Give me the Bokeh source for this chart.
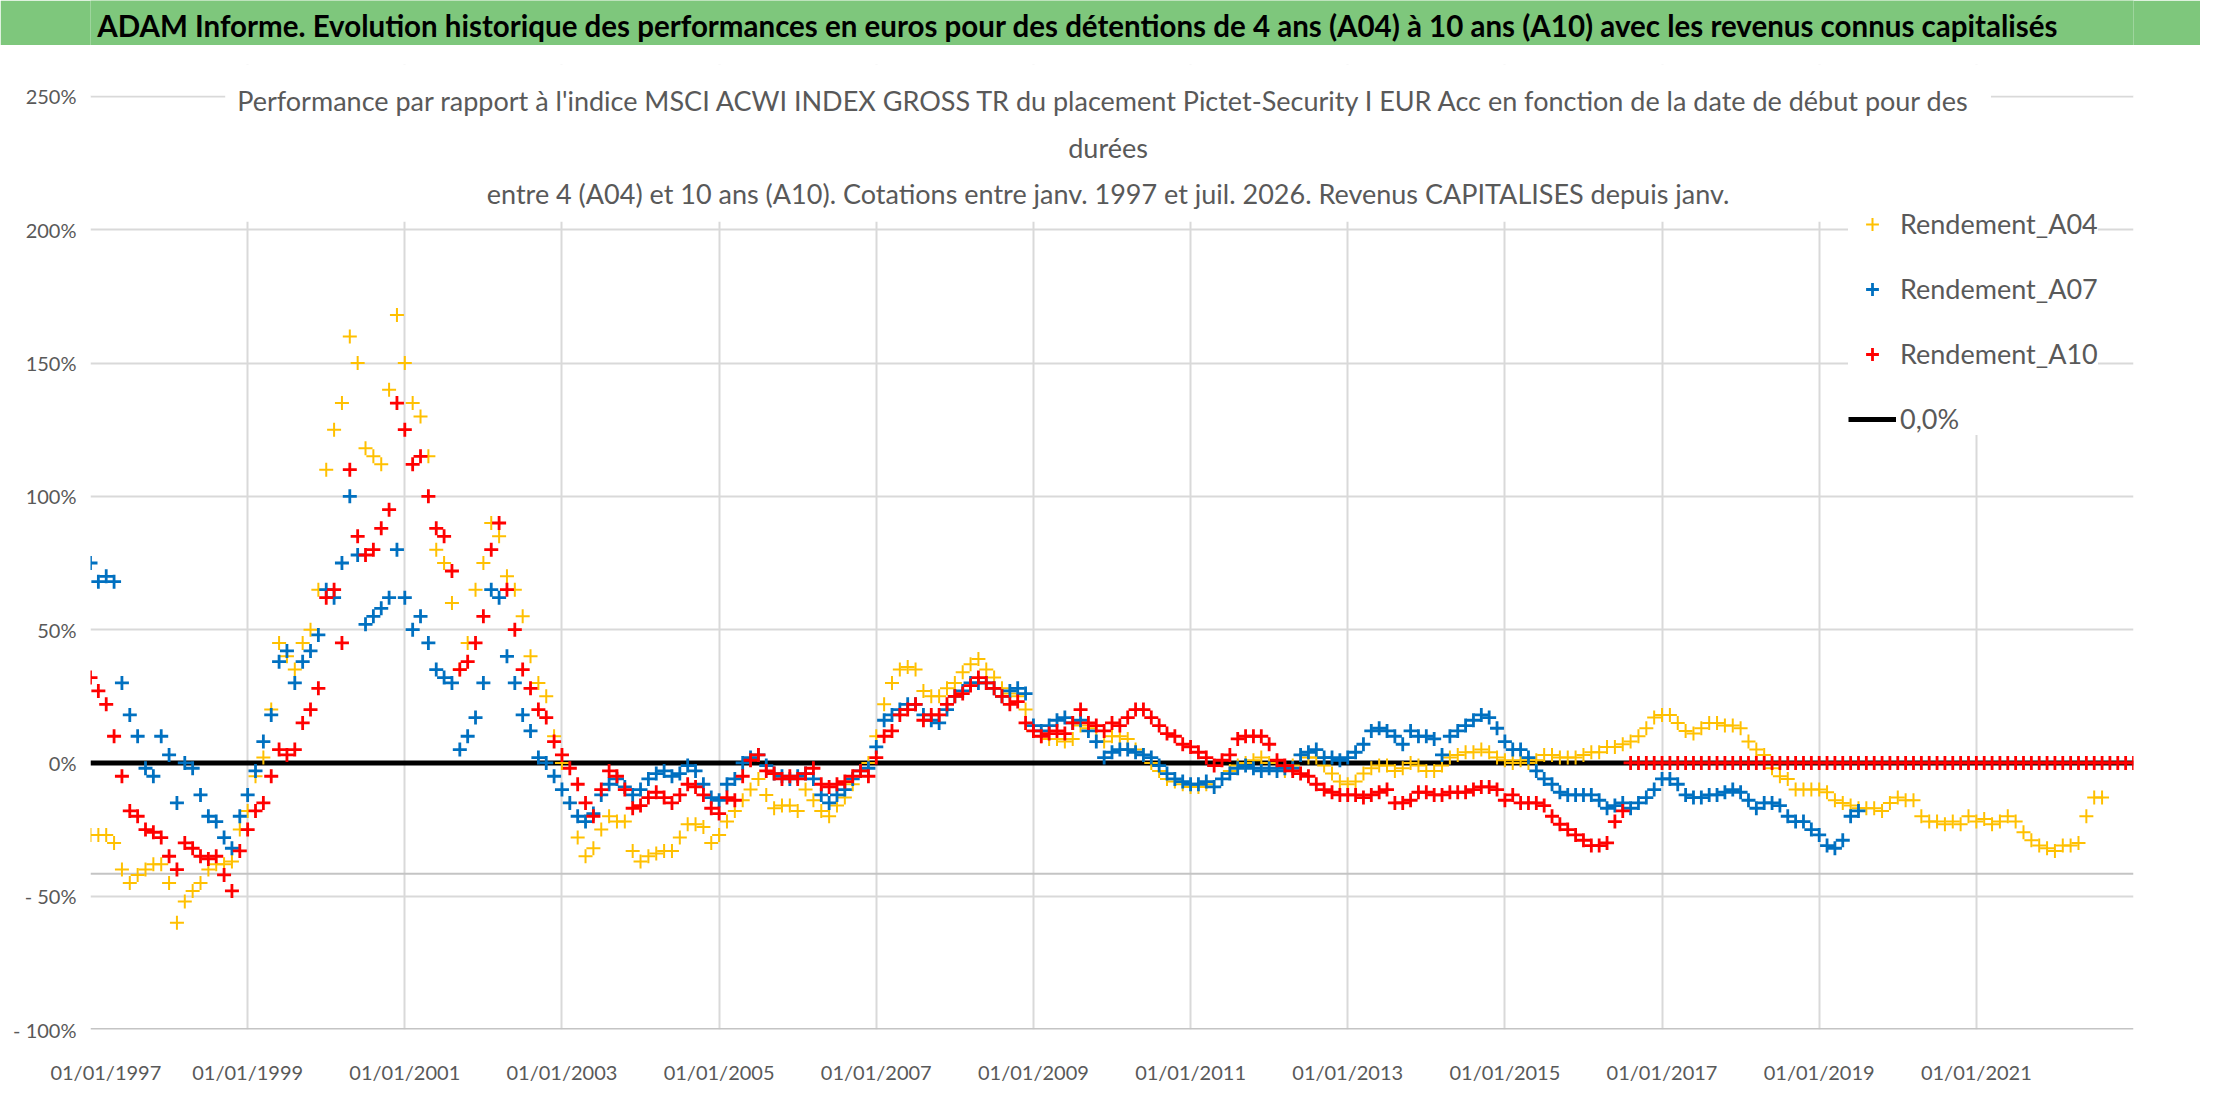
from bokeh.plotting import figure
from bokeh.layouts import column
from bokeh.models import (Range1d, FixedTicker, Label, Legend, LegendItem, Span,
                          BoxAnnotation)
from bokeh.embed import file_html
from bokeh.resources import INLINE

# Performance values (%) read every 0.1 year, starting 01/01/1997
start_year = 1997.0
step = 0.1

rendement_a04 = [
    -27, -27, -27, -30, -40, -45, -42, -40, -38, -38,   # 1997
    -45, -60, -52, -48, -45, -40, -38, -38, -37, -25,   # 1998
    -18, -5, 2, 20, 45, 40, 35, 45, 50, 65,             # 1999
    110, 125, 135, 160, 150, 118, 115, 112, 140, 168,   # 2000
    150, 135, 130, 115, 80, 75, 60, 35, 45, 65,         # 2001
    75, 90, 85, 70, 65, 55, 40, 30, 25, 10,             # 2002
    0, -15, -28, -35, -32, -25, -20, -22, -22, -33,     # 2003
    -37, -35, -34, -33, -33, -28, -23, -23, -24, -30,   # 2004
    -27, -22, -18, -14, -10, -6, -12, -17, -16, -16,    # 2005
    -18, -10, -14, -18, -20, -16, -13, -8, -3, 0,       # 2006
    10, 22, 30, 35, 36, 35, 27, 25, 25, 28,             # 2007
    30, 34, 37, 39, 35, 32, 28, 26, 25, 20,             # 2008
    12, 10, 9, 9, 8, 9, 14, 13, 12, 8,                  # 2009
    10, 10, 9, 5, 3, 0, -3, -6, -7, -8,                 # 2010
    -9, -9, -8, -9, -6, -3, -1, 0, 1, 2,                # 2011
    0, -2, -3, -1, 3, 2, 2, -1, -4, -7,                 # 2012
    -8, -7, -4, -2, -1, -1, -3, -2, 0, -1,              # 2013
    -3, -3, -1, 2, 3, 4, 4, 5, 4, 2,                    # 2014
    1, 0, 1, 0, 1, 3, 3, 2, 2, 2,                       # 2015
    3, 4, 4, 6, 6, 7, 8, 10, 13, 17,                    # 2016
    18, 18, 15, 12, 11, 13, 15, 15, 14, 14,             # 2017
    13, 8, 5, 3, -2, -5, -6, -10, -10, -10,             # 2018
    -10, -11, -14, -15, -16, -17, -17, -17, -18, -15,   # 2019
    -13, -14, -14, -20, -22, -22, -23, -22, -23, -20,   # 2020
    -22, -21, -23, -22, -20, -22, -26, -29, -31, -32,   # 2021
    -33, -31, -31, -30, -20, -13, -13,                  # 2022
]

rendement_a07 = [
    75, 68, 70, 68, 30, 18, 10, -2, -5, 10,             # 1997
    3, -15, 0, -2, -12, -20, -22, -28, -32, -20,        # 1998
    -12, -3, 8, 18, 38, 42, 30, 38, 42, 48,             # 1999
    65, 62, 75, 100, 78, 52, 55, 58, 62, 80,            # 2000
    62, 50, 55, 45, 35, 32, 30, 5, 10, 17,              # 2001
    30, 65, 62, 40, 30, 18, 12, 2, 0, -5,               # 2002
    -10, -15, -20, -22, -19, -12, -8, -6, -9, -12,      # 2003
    -10, -6, -4, -3, -5, -4, -1, -3, -8, -13,           # 2004
    -14, -8, -6, 0, 2, 3, -1, -4, -5, -6,               # 2005
    -5, -4, -6, -12, -15, -12, -10, -6, -3, -2,         # 2006
    6, 16, 18, 20, 22, 22, 18, 16, 15, 20,              # 2007
    25, 27, 30, 30, 30, 28, 25, 27, 28, 26,             # 2008
    14, 12, 14, 16, 17, 15, 16, 12, 8, 2,               # 2009
    4, 5, 5, 4, 3, 2, -1, -4, -6, -7,                   # 2010
    -8, -8, -7, -9, -6, -4, -2, -1, -2, -3,             # 2011
    -2, -3, -2, -2, 3, 4, 5, 2, 2, 1,                   # 2012
    2, 4, 7, 12, 13, 12, 10, 7, 12, 10,                 # 2013
    10, 9, 3, 10, 12, 14, 16, 18, 17, 13,               # 2014
    8, 5, 5, 2, -3, -6, -8, -11, -12, -12,              # 2015
    -12, -12, -14, -17, -16, -15, -17, -15, -13, -10,   # 2016
    -6, -6, -8, -12, -13, -13, -12, -12, -11, -10,      # 2017
    -11, -14, -17, -15, -15, -16, -20, -22, -22, -25,   # 2018
    -27, -31, -32, -29, -20, -18,                       # 2019
]

rendement_a10 = [
    32, 27, 22, 10, -5, -18, -20, -25, -26, -28,        # 1997
    -35, -40, -30, -32, -35, -36, -35, -42, -48, -33,   # 1998
    -25, -18, -15, -5, 5, 3, 5, 15, 20, 28,             # 1999
    62, 65, 45, 110, 85, 78, 80, 88, 95, 135,           # 2000
    125, 112, 115, 100, 88, 85, 72, 35, 38, 45,         # 2001
    55, 80, 90, 65, 50, 35, 28, 20, 17, 8,              # 2002
    3, -2, -8, -15, -20, -10, -3, -5, -10, -17,         # 2003
    -16, -13, -11, -13, -15, -12, -8, -9, -12, -17,     # 2004
    -19, -13, -14, -5, 1, 3, -3, -4, -6, -5,            # 2005
    -6, -4, -2, -8, -9, -8, -7, -5, -3, -5,             # 2006
    2, 10, 12, 18, 20, 22, 16, 18, 18, 22,              # 2007
    25, 26, 29, 32, 30, 28, 25, 22, 23, 15,             # 2008
    12, 10, 11, 12, 11, 15, 20, 15, 14, 12,             # 2009
    15, 14, 17, 20, 20, 17, 14, 11, 10, 7,              # 2010
    6, 4, 2, -1, 1, 3, 9, 10, 10, 10,                   # 2011
    7, 1, -1, -3, -4, -5, -8, -10, -11, -12,            # 2012
    -12, -12, -13, -12, -11, -10, -15, -15, -14, -11,   # 2013
    -11, -12, -12, -11, -11, -11, -10, -9, -9, -10,     # 2014
    -14, -12, -15, -15, -15, -16, -20, -23, -25, -27,   # 2015
    -29, -31, -31, -30, -22, -18, 0, 0, 0, 0,           # 2016
    0, 0, 0, 0, 0, 0, 0, 0, 0, 0,                       # 2017
    0, 0, 0, 0, 0, 0, 0, 0, 0, 0,                       # 2018
    0, 0, 0, 0, 0, 0, 0, 0, 0, 0,                       # 2019
    0, 0, 0, 0, 0, 0, 0, 0, 0, 0,                       # 2020
    0, 0, 0, 0, 0, 0, 0, 0, 0, 0,                       # 2021
    0, 0, 0, 0, 0, 0, 0, 0, 0, 0,                       # 2022
    0,                                                  # 2023
]

# "0,0%" reference series
zero_x = [1997.0, 2023.0]
zero_y = [0.0, 0.0]

tick_years = list(range(1997, 2022, 2))
tick_labels = {y: "01/01/%d" % y for y in tick_years}
# the first label gets pushed to the left by bokeh, pad it back over its gridline
tick_labels[1997] = "\u00a0" * 6 + tick_labels[1997]
pct_ticks = list(range(-100, 251, 50))
pct_labels = {v: ("- %d%%" % -v if v < 0 else "%d%%" % v) for v in pct_ticks}

title = ("ADAM Informe. Evolution historique des performances en euros pour des "
         "détentions de 4 ans (A04) à 10 ans (A10) avec les revenus connus capitalisés")
subtitle = ("Performance par rapport à l'indice MSCI ACWI INDEX GROSS TR  du placement "
            "Pictet-Security I EUR Acc en fonction de la date de début pour des\n"
            "durées\n"
            "entre 4 (A04) et 10 ans (A10). Cotations entre janv. 1997 et juil. 2026. "
            "Revenus CAPITALISES depuis janv.")

FONT = "Lato"
GREY = "#595959"
GREEN = "#7ec77c"


def years(values):
    return [start_year + step * i for i in range(len(values))]


# green header band
header = figure(width=2200, height=45, x_range=(0, 2200), y_range=(0, 45),
                x_axis_location=None, y_axis_location=None,
                toolbar_location=None, output_backend="svg", min_border=0)
header.grid.visible = False
header.outline_line_color = None
header.background_fill_color = GREEN
header.border_fill_color = GREEN
header.add_layout(Label(x=1063, y=20, text=title, text_align="center",
                        text_baseline="middle", text_font=FONT,
                        text_font_size="29.5px", text_font_style="bold",
                        text_color="black"))

# main chart (frame goes a bit above 250% so the subtitle is not clipped)
p = figure(width=2200, height=1041,
           x_range=Range1d(1997, 2023), y_range=Range1d(-100, 262),
           toolbar_location=None, output_backend="svg",
           min_border_left=90, min_border_right=67,
           min_border_top=19, min_border_bottom=56)
p.outline_line_color = None
p.background_fill_color = "white"

p.xaxis.ticker = FixedTicker(ticks=tick_years)
p.xaxis.major_label_overrides = tick_labels
p.yaxis.ticker = FixedTicker(ticks=pct_ticks)
p.yaxis.major_label_overrides = pct_labels
for ax in (p.xaxis, p.yaxis):
    ax.axis_line_color = None
    ax.major_tick_line_color = None
    ax.minor_tick_line_color = None
    ax.major_tick_in = 0
    ax.major_tick_out = 0
    ax.major_label_text_font = FONT
    ax.major_label_text_font_size = "20px"
    ax.major_label_text_color = GREY
p.yaxis.major_label_standoff = 14
p.xaxis.major_label_standoff = 30

p.grid.grid_line_color = "#d9d9d9"
p.grid.grid_line_width = 2

# hide grid above the 250% line
p.add_layout(BoxAnnotation(bottom=250.4, fill_color="white", fill_alpha=1.0,
                           line_alpha=0, level="glyph"))
p.add_layout(Span(location=-100, dimension="width", line_color="#c4c4c4",
                  line_width=3, level="underlay"))
p.add_layout(Span(location=-41.6, dimension="width", line_color="#c4c4c4",
                  line_width=2, level="underlay"))

r0 = p.line(zero_x, zero_y, line_color="black", line_width=5)
r04 = p.scatter(years(rendement_a04), rendement_a04, marker="cross", size=14,
                line_color="#FFC000", line_width=2)
r07 = p.scatter(years(rendement_a07), rendement_a07, marker="cross", size=14,
                line_color="#0070C0", line_width=2.8)
r10 = p.scatter(years(rendement_a10), rendement_a10, marker="cross", size=14,
                line_color="#FF0000", line_width=2.8)

# chart subtitle with white box over the grid
p.add_layout(Label(x=2009.95, y=231.0, text=subtitle, text_align="center",
                   text_baseline="middle", text_font=FONT, text_font_size="27px",
                   text_color=GREY, text_line_height=1.4,
                   background_fill_color="white", background_fill_alpha=1.0,
                   padding=12))

legend = Legend(items=[LegendItem(label="Rendement_A04", renderers=[r04]),
                       LegendItem(label="Rendement_A07", renderers=[r07]),
                       LegendItem(label="Rendement_A10", renderers=[r10]),
                       LegendItem(label="0,0%", renderers=[r0])],
                location=(1758, 594), margin=0, padding=16,
                glyph_width=48, glyph_height=32, label_height=32,
                label_standoff=4, spacing=32,
                label_text_font=FONT, label_text_font_size="27px",
                label_text_color=GREY, border_line_color=None,
                background_fill_color="white", background_fill_alpha=1.0)
p.add_layout(legend)

layout = column(header, p, spacing=0)
open("out.html", "w").write(file_html(layout, INLINE))
